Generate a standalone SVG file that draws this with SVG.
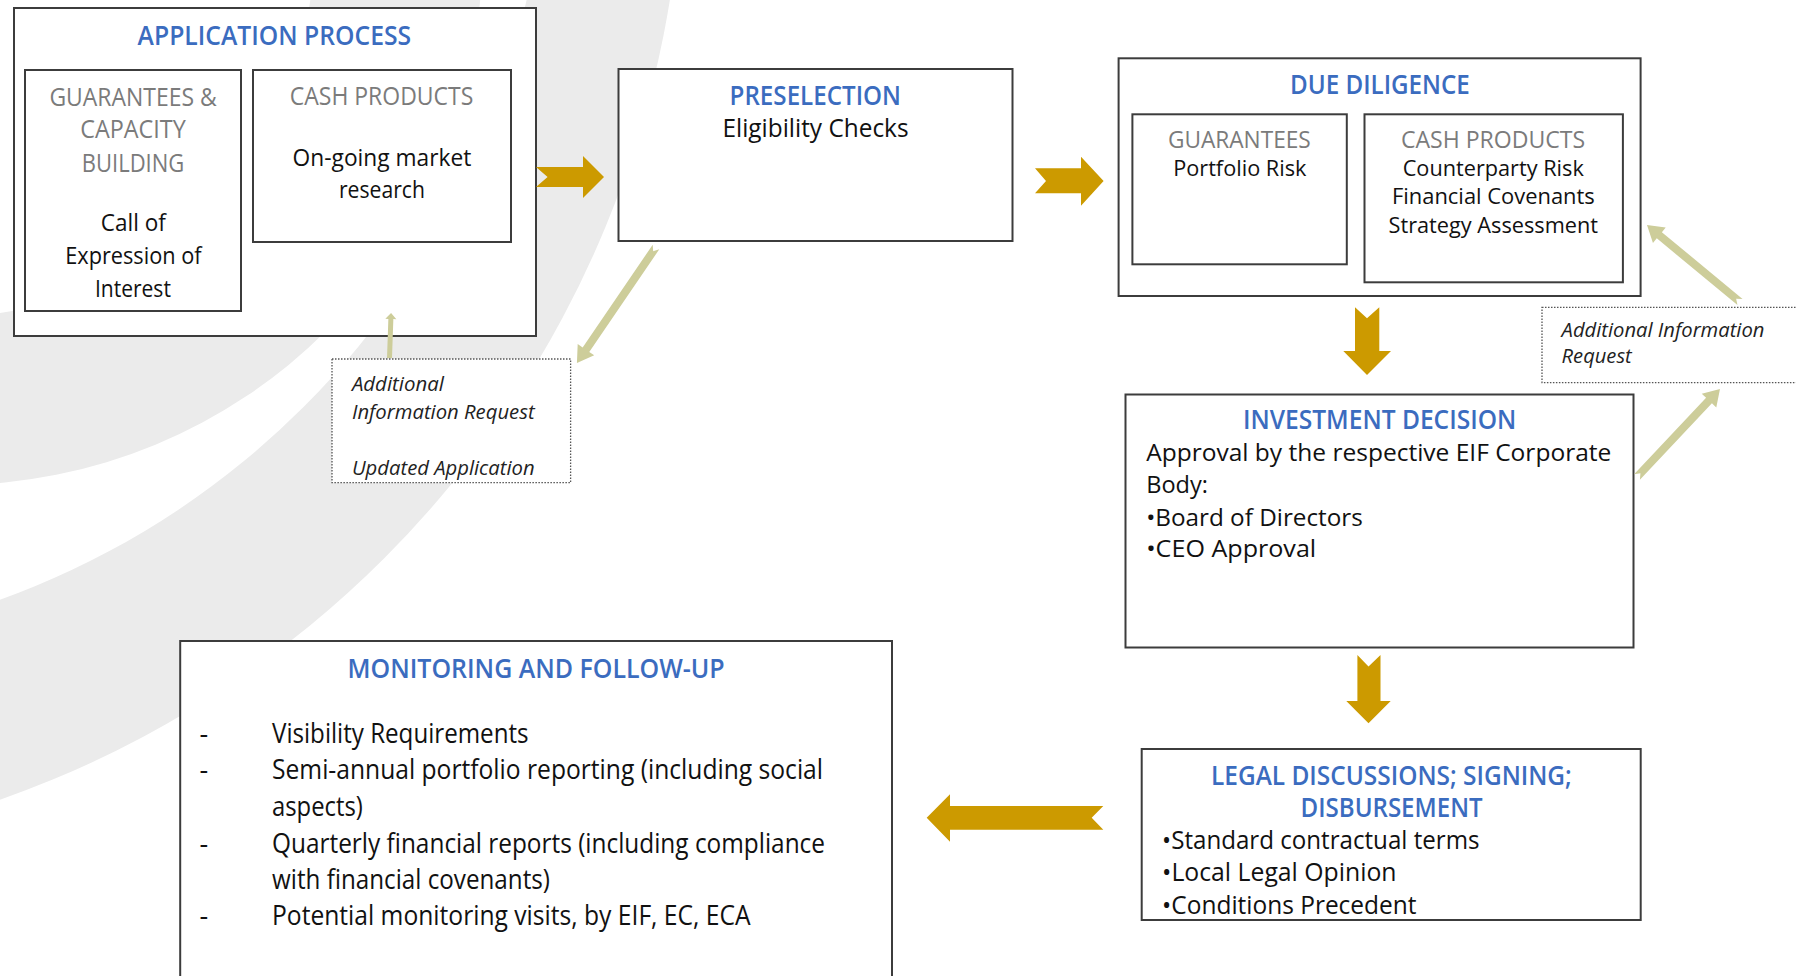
<svg xmlns="http://www.w3.org/2000/svg" width="1796" height="976" viewBox="0 0 1796 976">
<defs>
<style>
.box{fill:#fff;stroke:#3c3c3c;stroke-width:2}
.note{fill:#fff;stroke:#555;stroke-width:1.3;stroke-dasharray:1.5 1.5}
text{font-family:"Open Sans","Noto Sans","DejaVu Sans",sans-serif;}
.ttl{fill:#3b6cbf;font-size:26.5px;font-weight:600}
.sub{fill:#7b7b7b;font-size:25px}
.body{fill:#111;font-size:24.5px}
.mon{fill:#111;font-size:27px}
.it{fill:#222;font-size:20.5px;font-style:italic}
.gold{fill:#cc9a00}
.olive{fill:#cdcd9a}
</style>
</defs>
<rect width="1796" height="976" fill="#fff"/>
<g id="background" fill="#ebebeb" fill-rule="evenodd">
<path d="M-1357,-163 a1020,1020 0 1,0 2040,0 a1020,1020 0 1,0 -2040,0 Z M-1108,-178 a827,827 0 1,0 1654,0 a827,827 0 1,0 -1654,0 Z"/>
<path d="M-576,-44 a529,529 0 1,0 1058,0 a529,529 0 1,0 -1058,0 Z M-407,-44 a360,360 0 1,0 720,0 a360,360 0 1,0 -720,0 Z"/>
</g>
<g id="application-process">
<rect class="box" x="14" y="8" width="522" height="328"/>
<text class="ttl" x="137.6" y="45" textLength="273.6" lengthAdjust="spacingAndGlyphs">APPLICATION PROCESS</text>
<g id="app-guarantees">
<rect class="box" x="25" y="70" width="216" height="241"/>
<text class="sub" x="49.4" y="106" textLength="167.3" lengthAdjust="spacingAndGlyphs">GUARANTEES &amp;</text>
<text class="sub" x="80.3" y="138.3" textLength="105.5" lengthAdjust="spacingAndGlyphs">CAPACITY</text>
<text class="sub" x="81.8" y="171.7" textLength="102.5" lengthAdjust="spacingAndGlyphs">BUILDING</text>
<text class="body" x="100.8" y="231" textLength="65" lengthAdjust="spacingAndGlyphs">Call of</text>
<text class="body" x="65.2" y="264.3" textLength="136.4" lengthAdjust="spacingAndGlyphs">Expression of</text>
<text class="body" x="94.9" y="296.7" textLength="76" lengthAdjust="spacingAndGlyphs">Interest</text>
</g>
<g id="app-cash">
<rect class="box" x="253" y="70" width="258" height="172"/>
<text class="sub" x="289.8" y="105.3" textLength="183.5" lengthAdjust="spacingAndGlyphs">CASH PRODUCTS</text>
<text class="body" x="292.6" y="165.7" textLength="178.7" lengthAdjust="spacingAndGlyphs">On-going market</text>
<text class="body" x="338.9" y="197.7" textLength="86" lengthAdjust="spacingAndGlyphs">research</text>
</g>
</g>
<g id="note-application">
<rect class="note" x="332" y="359" width="238.6" height="123.7"/>
<text class="it" x="351.9" y="391" textLength="92" lengthAdjust="spacingAndGlyphs">Additional</text>
<text class="it" x="351.9" y="419.3" textLength="182.7" lengthAdjust="spacingAndGlyphs">Information Request</text>
<text class="it" x="351.9" y="475" textLength="182.7" lengthAdjust="spacingAndGlyphs">Updated Application</text>
</g>
<g id="preselection">
<rect class="box" x="618.5" y="69" width="394" height="172"/>
<text class="ttl" x="729.6" y="105.3" textLength="171.4" lengthAdjust="spacingAndGlyphs">PRESELECTION</text>
<text class="body" x="722.5" y="136.7" textLength="186" lengthAdjust="spacingAndGlyphs" style="font-size:25.5px">Eligibility Checks</text>
</g>
<g id="due-diligence">
<rect class="box" x="1118.6" y="58.3" width="522" height="237.7"/>
<text class="ttl" x="1290" y="94.3" textLength="179.8" lengthAdjust="spacingAndGlyphs">DUE DILIGENCE</text>
<g id="dd-guarantees">
<rect class="box" x="1132.4" y="114.3" width="214.4" height="150"/>
<text class="sub" x="1167.9" y="147.7" textLength="142.9" lengthAdjust="spacingAndGlyphs" style="font-size:24px">GUARANTEES</text>
<text class="body" x="1173.2" y="175.7" textLength="133.2" lengthAdjust="spacingAndGlyphs" style="font-size:22.5px">Portfolio Risk</text>
</g>
<g id="dd-cash">
<rect class="box" x="1364.5" y="114.3" width="258.4" height="168"/>
<text class="sub" x="1400.9" y="147.7" textLength="184.2" lengthAdjust="spacingAndGlyphs" style="font-size:24px">CASH PRODUCTS</text>
<text class="body" x="1402.7" y="175.7" textLength="181.1" lengthAdjust="spacingAndGlyphs" style="font-size:22.5px">Counterparty Risk</text>
<text class="body" x="1392" y="204.3" textLength="202.8" lengthAdjust="spacingAndGlyphs" style="font-size:22.5px">Financial Covenants</text>
<text class="body" x="1388.5" y="233.3" textLength="209.5" lengthAdjust="spacingAndGlyphs" style="font-size:22.5px">Strategy Assessment</text>
</g>
</g>
<g id="note-due-diligence">
<rect class="note" x="1542" y="307.3" width="300" height="75.4"/>
<text class="it" x="1561.6" y="337.3" textLength="202.8" lengthAdjust="spacingAndGlyphs">Additional Information</text>
<text class="it" x="1561.6" y="363.3" textLength="70.1" lengthAdjust="spacingAndGlyphs">Request</text>
</g>
<g id="investment-decision">
<rect class="box" x="1125.5" y="394.5" width="508" height="253"/>
<text class="ttl" x="1242.9" y="429.4" textLength="273.4" lengthAdjust="spacingAndGlyphs">INVESTMENT DECISION</text>
<text class="body" x="1146.2" y="461" textLength="465.1" lengthAdjust="spacingAndGlyphs">Approval by the respective EIF Corporate</text>
<text class="body" x="1146.2" y="493.3" textLength="61.7" lengthAdjust="spacingAndGlyphs">Body:</text>
<text class="body" x="1146.2" y="525.6" textLength="216.6" lengthAdjust="spacingAndGlyphs">•Board of Directors</text>
<text class="body" x="1146.2" y="557" textLength="170" lengthAdjust="spacingAndGlyphs">•CEO Approval</text>
</g>
<g id="legal">
<rect class="box" x="1141.7" y="749" width="499" height="171"/>
<text class="ttl" x="1211" y="785" textLength="360.8" lengthAdjust="spacingAndGlyphs">LEGAL DISCUSSIONS; SIGNING;</text>
<text class="ttl" x="1300.6" y="816.5" textLength="182" lengthAdjust="spacingAndGlyphs">DISBURSEMENT</text>
<text class="body" x="1162.1" y="848.8" textLength="317.4" lengthAdjust="spacingAndGlyphs" style="font-size:25px">•Standard contractual terms</text>
<text class="body" x="1162.1" y="881" textLength="234.4" lengthAdjust="spacingAndGlyphs" style="font-size:25px">•Local Legal Opinion</text>
<text class="body" x="1162.1" y="913.5" textLength="254.4" lengthAdjust="spacingAndGlyphs" style="font-size:25px">•Conditions Precedent</text>
</g>
<g id="monitoring">
<rect class="box" x="180.2" y="641" width="711.8" height="360"/>
<text class="ttl" x="347.6" y="678.3" textLength="377" lengthAdjust="spacingAndGlyphs">MONITORING AND FOLLOW-UP</text>
<text class="mon" x="199.6" y="742.7">-</text>
<text class="mon" x="199.6" y="779.3">-</text>
<text class="mon" x="199.6" y="853.3">-</text>
<text class="mon" x="199.6" y="925">-</text>
<text class="mon" x="272" y="742.7" textLength="256.6" lengthAdjust="spacingAndGlyphs">Visibility Requirements</text>
<text class="mon" x="272" y="779.3" textLength="551" lengthAdjust="spacingAndGlyphs">Semi-annual portfolio reporting (including social</text>
<text class="mon" x="272" y="816" textLength="90.8" lengthAdjust="spacingAndGlyphs">aspects)</text>
<text class="mon" x="272" y="853.3" textLength="553" lengthAdjust="spacingAndGlyphs">Quarterly financial reports (including compliance</text>
<text class="mon" x="272" y="888.7" textLength="278" lengthAdjust="spacingAndGlyphs">with financial covenants)</text>
<text class="mon" x="272" y="925" textLength="478.6" lengthAdjust="spacingAndGlyphs">Potential monitoring visits, by EIF, EC, ECA</text>
</g>
<g id="connectors">
<polygon class="gold" points="536,167 583,167 583,156 604,177 583,198 583,187 536,187 547.6,177"/>
<polygon class="gold" points="1035,168.3 1081,168.3 1081,156.7 1103.6,181 1081,205.7 1081,193.3 1035,193.3 1046,181"/>
<polygon class="gold" points="1355,307.3 1367,318.3 1379.3,307.3 1379.3,351 1391,351 1367,375 1343.3,351 1355,351"/>
<polygon class="gold" points="1357.4,655 1368.5,666.5 1380.5,655 1380.5,701 1390.7,701 1368.5,723.3 1346.3,701 1357.4,701"/>
<polygon class="gold" points="1103.3,806 1091.7,817.7 1103.3,829.7 950,829.7 950,841.7 926.7,817.7 950,794.3 950,806"/>
<polygon class="olive" points="0,-4 124.3,-4 124.3,-10 140.3,0 124.3,10 124.3,4 0,4 5,0" transform="translate(656,247) rotate(124.3)"/>
<polygon class="olive" points="0,-4 104.7,-4 104.7,-10 120.7,0 104.7,10 104.7,4 0,4 5,0" transform="translate(1740,302) rotate(-140.4)"/>
<polygon class="olive" points="0,-4 105,-4 105,-10 121,0 105,10 105,4 0,4 5,0" transform="translate(1637,477) rotate(-46.7)"/>
<polygon class="olive" points="0,-2.5 39,-2.5 39,-5.5 45,0 39,5.5 39,2.5 0,2.5" transform="translate(389.5,358) rotate(-88)"/>
</g>
</svg>
